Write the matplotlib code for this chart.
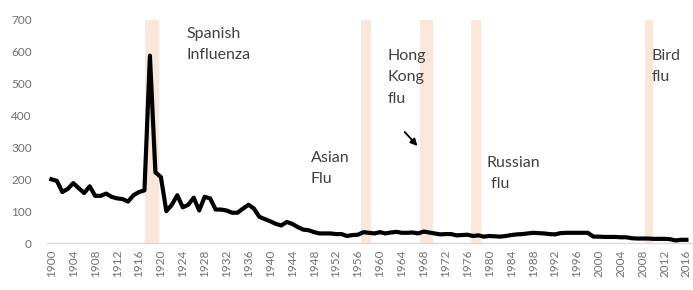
import matplotlib
matplotlib.use("Agg")
import matplotlib.pyplot as plt

# influenza mortality per year
years = list(range(1900, 2017))
deaths = [
    200, 195, 160, 170, 188, 172, 157, 178, 148, 148,
    155, 145, 140, 138, 130, 150, 160, 165, 588, 222,
    207, 100, 120, 150, 112, 120, 142, 102, 145, 140,
    105, 105, 102, 95, 95, 108, 120, 108, 82, 75,
    68, 60, 55, 66, 60, 50, 42, 40, 34, 30,
    30, 30, 28, 28, 22, 25, 26, 34, 32, 30,
    34, 30, 33, 35, 32, 32, 33, 30, 36, 33,
    30, 27, 28, 28, 24, 25, 26, 22, 24, 20,
    22, 21, 20, 22, 25, 27, 28, 30, 32, 31,
    30, 28, 27, 31, 32, 32, 32, 32, 32, 20,
    20, 19, 19, 19, 18, 18, 15, 14, 14, 14,
    13, 13, 13, 12, 8, 10, 10,
]

# pandemic bands (start, end year) and their labels
band_start = [1917.1, 1956.5, 1967.3, 1976.7, 2008.4]
band_end = [1919.6, 1958.3, 1969.7, 1978.5, 2009.9]

labels = ["Spanish\nInfluenza", "Asian\nFlu", "Hong\nKong\nflu", "Russian\n flu", "Bird\nflu"]
label_x = [1924.6, 1947.4, 1961.4, 1979.5, 2009.6]
label_y = [678, 288, 608, 272, 608]

fig = plt.figure(figsize=(6.93, 2.9), dpi=100)
ax = fig.add_axes([47 / 693, 47 / 290, 646 / 693, 223 / 290])

for s, e in zip(band_start, band_end):
    ax.axvspan(s, e, ymin=0, ymax=1, color="#fbe6da", lw=0, zorder=1)

ax.plot(years, deaths, color="black", lw=3, zorder=3, solid_joinstyle="round")

for txt, x, y in zip(labels, label_x, label_y):
    ax.text(x, y, txt, fontsize=11.5, color="#404040", va="top", ha="left",
            family="Lato", linespacing=1.65, zorder=4)

ax.annotate("", xy=(1967.2, 298), xytext=(1964.2, 355),
            arrowprops=dict(arrowstyle="-|>", color="black", lw=1.3,
                            mutation_scale=10), zorder=4)

ax.set_xlim(1899.2, 2017.2)
ax.set_ylim(0, 700)
ax.set_yticks(range(0, 701, 100))
ax.set_xticks(range(1900, 2017, 4))
ax.tick_params(axis="x", labelrotation=90, length=0, pad=5, labelsize=8.5,
               labelcolor="#707070")
ax.tick_params(axis="y", length=0, pad=11, labelsize=8.5, labelcolor="#707070")
for lab in ax.get_xticklabels() + ax.get_yticklabels():
    lab.set_family("Lato")

for side in ["top", "right", "left"]:
    ax.spines[side].set_visible(False)
ax.spines["bottom"].set_color("#d9d9d9")
ax.spines["bottom"].set_linewidth(1)

fig.savefig("out.png", dpi=100)
